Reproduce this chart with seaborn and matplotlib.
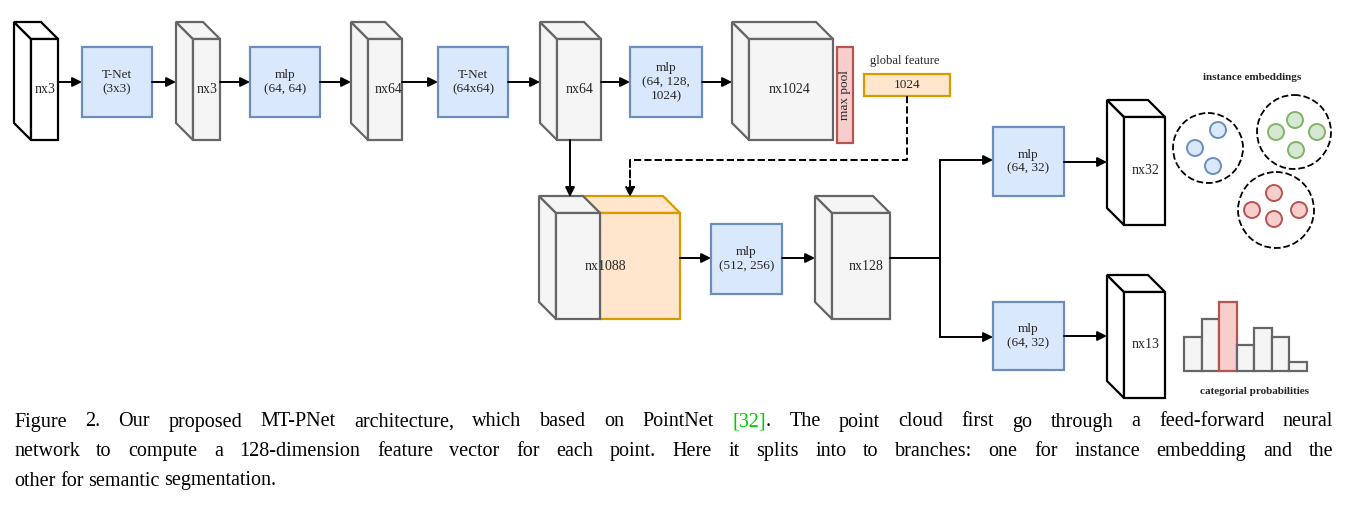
import matplotlib.pyplot as plt
import matplotlib.patches as mp
import seaborn as sns

sns.set_style('white')
plt.rcParams['font.family'] = ['Liberation Serif', 'DejaVu Serif']

# 블록 라벨
cube_labels = ['nx3', 'nx3', 'nx64', 'nx64', 'nx1024', 'nx1088', 'nx128', 'nx32', 'nx13']
mlp_labels = ['T-Net\n(3x3)', 'mlp\n(64, 64)', 'T-Net\n(64x64)', 'mlp\n(64, 128,\n1024)',
              'mlp\n(512, 256)', 'mlp\n(64, 32)', 'mlp\n(64, 32)']
# 범주 확률 히스토그램 값
hist_values = [34, 52, 69, 26, 43, 34, 9]
hist_highlight = 2
# 임베딩 클러스터 (색, 점 개수)
cluster_colors = ['blue', 'green', 'red']
cluster_points = [3, 4, 4]
caption_lines = [
    'Figure 2. Our proposed MT-PNet architecture, which based on PointNet [32]. The point cloud first go through a feed-forward neural',
    'network to compute a 128-dimension feature vector for each point. Here it splits into to branches: one for instance embedding and the',
    'other for semantic segmentation.',
]
caption_justify = [True, True, False]

BLUE_F, BLUE_E = '#dae8fc', '#6c8ebf'
GREY_F, GREY_E = '#f5f5f5', '#666666'

fig = plt.figure(figsize=(13.47, 5.05), dpi=100)
ax = fig.add_axes([0, 0, 1, 1])
ax.set_xlim(0, 1347)
ax.set_ylim(505, 0)
ax.axis('off')


def cube(x0, x1, y0, y1, label, fc=GREY_F, ec=GREY_E, d=17, tx=None):
    pts_front = [(x0 + d, y0 + d), (x1, y0 + d), (x1, y1), (x0 + d, y1)]
    pts_side = [(x0, y0), (x0 + d, y0 + d), (x0 + d, y1), (x0, y1 - d)]
    pts_top = [(x0, y0), (x1 - d, y0), (x1, y0 + d), (x0 + d, y0 + d)]
    for p in (pts_side, pts_top, pts_front):
        ax.add_patch(mp.Polygon(p, closed=True, fc=fc, ec=ec, lw=1.6))
    if label:
        cx = tx if tx is not None else (x0 + d + x1) / 2
        ax.text(cx, (y0 + d + y1) / 2, label, ha='center', va='center', fontsize=10)


def box(x0, x1, y0, y1, label, fc=BLUE_F, ec=BLUE_E, fs=9.5):
    ax.add_patch(mp.Rectangle((x0, y0), x1 - x0, y1 - y0, fc=fc, ec=ec, lw=1.6))
    ax.text((x0 + x1) / 2, (y0 + y1) / 2, label, ha='center', va='center',
            fontsize=fs, linespacing=1.2)


def arrow(x0, y0, x1, y1, ls='-'):
    ax.annotate('', xy=(x1, y1), xytext=(x0, y0),
                arrowprops=dict(arrowstyle='-|>', color='black', lw=1.4, ls=ls,
                                mutation_scale=14, shrinkA=0, shrinkB=0))


def line(xs, ys, ls='-'):
    ax.plot(xs, ys, color='black', lw=1.4, ls=ls)


# 상단 행
cube(14, 58, 22, 140, cube_labels[0], fc='white', ec='black', tx=45)
box(82, 152, 47, 117, mlp_labels[0])
cube(176, 220, 22, 140, cube_labels[1], tx=207)
box(250, 320, 47, 117, mlp_labels[1])
cube(351, 402, 22, 140, cube_labels[2], tx=389)
box(438, 508, 47, 117, mlp_labels[2])
cube(540, 601, 22, 140, cube_labels[3], tx=580)
box(630, 702, 47, 117, mlp_labels[3])
cube(732, 833, 22, 140, cube_labels[4], tx=790)
ax.add_patch(mp.Rectangle((837, 47), 16, 96, fc='#f8cecc', ec='#b85450', lw=1.6))
ax.text(845, 95, 'max pool', rotation=90, ha='center', va='center', fontsize=9.5)
ax.text(905, 61, 'global feature', ha='center', va='center', fontsize=9)
box(864, 950, 74, 96, '1024', fc='#ffe6cc', ec='#d79b00')

for xa, xb in [(58, 82), (152, 176), (220, 250), (320, 351), (402, 438), (508, 540), (601, 630), (702, 732)]:
    arrow(xa, 82, xb, 82)

# 연결선
arrow(570, 140, 570, 197)
line([907, 907, 630], [96, 160, 160], ls='--')
arrow(630, 160, 630, 197, ls='--')

# 중간 행
cube(583, 680, 196, 319, None, fc='#ffe6cc', ec='#d79b00')
cube(539, 600, 196, 319, None)
ax.text(605, 267, cube_labels[5], ha='center', va='center', fontsize=10)
arrow(680, 258, 711, 258)
box(711, 782, 224, 294, mlp_labels[4])
arrow(782, 258, 815, 258)
cube(815, 890, 196, 319, cube_labels[6], tx=866)
line([890, 940], [258, 258])
line([940, 940], [160, 337])
arrow(940, 160, 993, 160)
arrow(940, 337, 993, 337)
box(993, 1064, 127, 196, mlp_labels[5])
box(993, 1064, 302, 370, mlp_labels[6])
arrow(1064, 162, 1107, 162)
arrow(1064, 336, 1107, 336)
cube(1107, 1165, 100, 225, cube_labels[7], fc='white', ec='black', tx=1146)
cube(1107, 1165, 275, 398, cube_labels[8], fc='white', ec='black', tx=1146)

# 인스턴스 임베딩
ax.text(1252, 77, 'instance embeddings', ha='center', va='center', fontsize=8, fontweight='bold')
centers = [(1208, 148, 35), (1294, 132, 37), (1276, 210, 38)]
dots = [[(1195, 148), (1218, 130), (1213, 166)],
        [(1276, 132), (1295, 120), (1317, 132), (1296, 150)],
        [(1252, 210), (1274, 193), (1299, 210), (1274, 219)]]
fills = {'blue': ('#dae8fc', '#6c8ebf'), 'green': ('#d5e8d4', '#82b366'), 'red': ('#f8cecc', '#b85450')}
for (cx, cy, r), col, pts, n in zip(centers, cluster_colors, dots, cluster_points):
    ax.add_patch(mp.Circle((cx, cy), r, fc='white', ec='black', lw=1.3, ls='--'))
    for px, py in pts[:n]:
        ax.add_patch(mp.Circle((px, py), 8, fc=fills[col][0], ec=fills[col][1], lw=1.4))

# 범주 확률 히스토그램
bw = 17.5
for i, h in enumerate(hist_values):
    fc, ec = (('#f8cecc', '#b85450') if i == hist_highlight else (GREY_F, GREY_E))
    ax.bar(1184 + i * bw, -h, bottom=371, width=bw, align='edge', color=fc, edgecolor=ec, lw=1.6)
ax.text(1255, 392, 'categorial probabilities', ha='center', va='center', fontsize=8, fontweight='bold')

# 캡션 (양쪽 정렬)
fig.canvas.draw()
r = fig.canvas.get_renderer()
x_left, x_right = 14, 1333
for k, (text, just) in enumerate(zip(caption_lines, caption_justify)):
    y = 422 + k * 29.5
    words = text.split(' ')
    arts = []
    for w in words:
        c = '#00cc00' if w.startswith('[32]') else 'black'
        if w == '[32].':
            arts.append(ax.text(0, y, '[32]', ha='left', va='center', fontsize=14.5, color='#00cc00'))
            arts.append(ax.text(0, y, '.', ha='left', va='center', fontsize=14.5, color='black'))
        else:
            arts.append(ax.text(0, y, w, ha='left', va='center', fontsize=14.5, color=c))
    widths = [a.get_window_extent(r).width for a in arts]
    glue = [i for i in range(len(arts) - 1) if arts[i].get_text() != '[32]']
    if just:
        gap = (x_right - x_left - sum(widths)) / len(glue)
    else:
        gap = 4.5
    x = x_left
    for i, (a, wd) in enumerate(zip(arts, widths)):
        a.set_x(x)
        x += wd + (gap if i in glue else 0)

fig.savefig('out.png', dpi=100)
